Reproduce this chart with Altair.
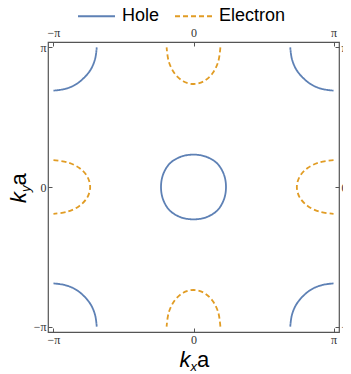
import altair as alt
import pandas as pd

# all coordinates in units of pi
types = ["Hole", "Electron"]
colors = ["#5E81B5", "#E19C24"]

# central hole pocket (closed contour)
center_x = [0.232, 0.217, 0.169, 0.090, 0.0, -0.090, -0.169, -0.217,
            -0.232, -0.217, -0.169, -0.090, 0.0, 0.090, 0.169, 0.217]
center_y = [0.0, 0.090, 0.169, 0.217, 0.232, 0.217, 0.169, 0.090,
            0.0, -0.090, -0.169, -0.217, -0.232, -0.217, -0.169, -0.090]

# corner hole pockets: offsets from the corner point
arc_dx = [0.309, 0.298, 0.268, 0.218, 0.155, 0.080, 0.0]
arc_dy = [0.0, 0.080, 0.155, 0.218, 0.268, 0.298, 0.309]
corners = [(-1, 1), (1, 1), (-1, -1), (1, -1)]

# electron pockets on the zone edges: along-edge and depth offsets
ell_along = [0.192, 0.177, 0.136, 0.074, 0.0, -0.074, -0.136, -0.177, -0.192]
ell_depth = [0.0, 0.100, 0.185, 0.242, 0.262, 0.242, 0.185, 0.100, 0.0]
edges = ["top", "bottom", "left", "right"]

tick_vals = [-1, 0, 1]

rows = []
for ci, (cx, cy) in enumerate(corners):
    for i, (dx, dy) in enumerate(zip(arc_dx, arc_dy)):
        rows.append({"x": cx - cx * dx, "y": cy - cy * dy, "type": "Hole",
                     "pocket": f"c{ci}", "o": i})
for e in edges:
    for i, (a, d) in enumerate(zip(ell_along, ell_depth)):
        if e == "top":
            x, y = a, 1 - d
        elif e == "bottom":
            x, y = a, -1 + d
        elif e == "left":
            x, y = -1 + d, a
        else:
            x, y = 1 - d, a
        rows.append({"x": x, "y": y, "type": "Electron", "pocket": e, "o": i})
open_df = pd.DataFrame(rows)
closed_df = pd.DataFrame({"x": center_x, "y": center_y, "type": "Hole",
                          "pocket": "center", "o": list(range(len(center_x)))})

W, H = 291, 290
D = 1.039
xs = alt.Scale(domain=[-D, D], nice=False, zero=False)
ys = alt.Scale(domain=[-D, D], nice=False, zero=False)
lab = "datum.value == 0 ? '0' : (datum.value > 0 ? 'π' : '−π')"

def lab_axis(orient, pad=2):
    return alt.Axis(orient=orient, values=tick_vals, ticks=False, domain=False,
                    grid=False, labelExpr=lab, title=None, labelPadding=pad,
                    labelFont="Liberation Serif", labelFontSize=12,
                    labelColor="#333333")

def tick_axis(orient, off):
    return alt.Axis(orient=orient, offset=off, values=tick_vals, labels=False,
                    domain=False, grid=False, tickSize=4, tickColor="#555555",
                    tickWidth=1, title=None)

legend = alt.Legend(orient="none", legendX=29, legendY=-45.5, direction="horizontal",
                    title=None, symbolType="stroke", symbolSize=1369,
                    symbolStrokeWidth=2, labelFontSize=18, labelFont="Liberation Sans",
                    labelColor="black", labelOffset=6, columnPadding=11, padding=0)
color = alt.Color("type:N", scale=alt.Scale(domain=types, range=colors), legend=legend)
dash = alt.StrokeDash("type:N", scale=alt.Scale(domain=types, range=[[1, 0], [5, 3]]),
                      legend=legend)

layer_open = alt.Chart(open_df).mark_line(interpolate="cardinal", strokeWidth=1.8).encode(
    x=alt.X("x:Q", scale=xs, axis=lab_axis("bottom", 2)),
    y=alt.Y("y:Q", scale=ys, axis=lab_axis("left", 2)),
    color=color, strokeDash=dash, detail="pocket:N", order="o:Q")

layer_closed = alt.Chart(closed_df).mark_line(interpolate="cardinal-closed", strokeWidth=1.8).encode(
    x=alt.X("x:Q", scale=xs, axis=lab_axis("top", 3)),
    y=alt.Y("y:Q", scale=ys, axis=lab_axis("right", 2)),
    color=color, strokeDash=dash, detail="pocket:N", order="o:Q")

ticks1 = alt.Chart(closed_df).mark_point(opacity=0).encode(
    x=alt.X("x:Q", scale=xs, axis=tick_axis("top", -H)),
    y=alt.Y("y:Q", scale=ys, axis=tick_axis("left", -W)))

ticks2 = alt.Chart(closed_df).mark_point(opacity=0).encode(
    x=alt.X("x:Q", scale=xs, axis=tick_axis("bottom", -H)),
    y=alt.Y("y:Q", scale=ys, axis=tick_axis("right", -W)))

one = alt.Data(values=[{"k": 1}])
tfont = "Liberation Sans"
BIG, SMALL = 22, 13
xt_k = alt.Chart(one).mark_text(text="k", fontSize=BIG, fontStyle="italic", font=tfont,
                                align="left", baseline="alphabetic").encode(
    x=alt.value(131.5), y=alt.value(324.5))
xt_s = alt.Chart(one).mark_text(text="x", fontSize=SMALL, fontStyle="italic", font=tfont,
                                align="left", baseline="alphabetic").encode(
    x=alt.value(142.5), y=alt.value(328.5))
xt_a = alt.Chart(one).mark_text(text="a", fontSize=BIG, font=tfont,
                                align="left", baseline="alphabetic").encode(
    x=alt.value(149), y=alt.value(324.5))
yt_k = alt.Chart(one).mark_text(text="k", fontSize=BIG, fontStyle="italic", font=tfont,
                                align="left", baseline="alphabetic", angle=270).encode(
    x=alt.value(-22.5), y=alt.value(161))
yt_s = alt.Chart(one).mark_text(text="y", fontSize=SMALL, fontStyle="italic", font=tfont,
                                align="left", baseline="alphabetic", angle=270).encode(
    x=alt.value(-18.5), y=alt.value(150))
yt_a = alt.Chart(one).mark_text(text="a", fontSize=BIG, font=tfont,
                                align="left", baseline="alphabetic", angle=270).encode(
    x=alt.value(-22.5), y=alt.value(143.5))

chart = alt.layer(layer_open, layer_closed, ticks1, ticks2,
                  xt_k, xt_s, xt_a, yt_k, yt_s, yt_a).resolve_axis(
    x="independent", y="independent").properties(
    width=W, height=H,
    autosize=alt.AutoSizeParams(type="none"),
    padding={"left": 40, "top": 34, "right": 4, "bottom": 40}
).configure_view(stroke="#555555", strokeWidth=1.2)

chart.save("out.html", embed_options={"renderer": "svg", "actions": False})
